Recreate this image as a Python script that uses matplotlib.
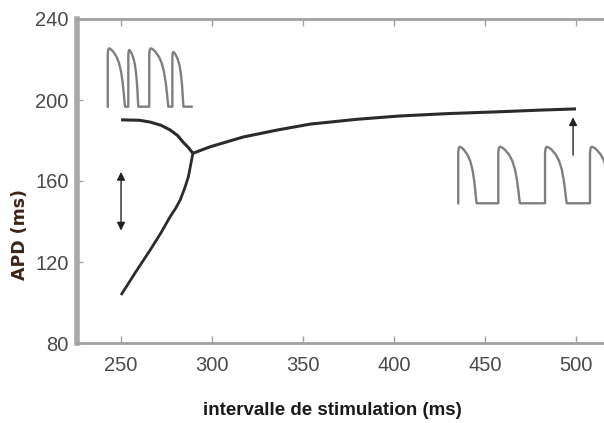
import matplotlib
matplotlib.use("Agg")
import matplotlib.pyplot as plt

# APD restitution branches
upper_x = [250, 260, 266, 272, 277, 281, 284, 287, 289.5]
upper_y = [190.2, 190.0, 189.1, 187.5, 185.2, 182.5, 179.3, 176.5, 173.7]
main_x = [289.5, 299, 317, 336, 354, 380, 403, 430, 458, 480, 500]
main_y = [173.7, 176.9, 181.7, 185.2, 188.1, 190.5, 192.1, 193.3, 194.2, 195.0, 195.6]
lower_x = [250, 258, 266, 272, 277, 280, 282.5, 285, 287, 289.5]
lower_y = [103.7, 115.0, 125.9, 134.5, 142.4, 146.5, 150.6, 156.5, 162.1, 173.7]

# action potential sketch: shape of one beat (fraction of duration, fraction of amplitude)
ap_t = [0, 0, 0.03, 0.08, 0.16, 0.3, 0.5, 0.65, 0.77, 0.86, 0.93, 0.97, 1.0]
ap_v = [0, 0.9, 0.98, 1.0, 0.99, 0.95, 0.86, 0.75, 0.6, 0.42, 0.22, 0.08, 0]

# alternans trace (top left)
alt_onsets = [242.7, 254.0, 265.5, 278.2]
alt_durations = [9.5, 5.5, 10.5, 6.1]
alt_amps = [28.8, 28.0, 28.8, 27.0]
alt_base = 196.7
alt_end = 288.8

# steady trace (bottom right)
std_onsets = [435.3, 457.3, 483.0, 507.7]
std_durations = [10.1, 11.9, 11.9, 11.9]
std_amps = [27.9, 27.9, 27.9, 27.9]
std_base = 149.0
std_end = 525.0

xticks = [250, 300, 350, 400, 450, 500]
yticks = [80, 120, 160, 200, 240]


def trace(onsets, durations, amps, base, end):
    xs, ys = [], []
    for o, d, a in zip(onsets, durations, amps):
        for t, v in zip(ap_t, ap_v):
            xs.append(o + t * d)
            ys.append(base + v * a)
    xs.append(end)
    ys.append(base)
    return xs, ys


plt.rcParams['font.family'] = ['Liberation Sans', 'DejaVu Sans']

fig = plt.figure(figsize=(6.04, 4.23), dpi=100)
ax = fig.add_axes([77 / 604, 80 / 423, 1 - 77 / 604, (343 - 19) / 423])

curve = '#2b2b2b'
ax.plot(upper_x, upper_y, color=curve, lw=2.2, solid_capstyle='butt')
ax.plot(main_x, main_y, color=curve, lw=2.2, solid_capstyle='butt')
ax.plot(lower_x, lower_y, color=curve, lw=2.0, solid_capstyle='butt')

wave = '#7f7f7f'
tx, ty = trace(alt_onsets, alt_durations, alt_amps, alt_base, alt_end)
ax.plot(tx, ty, color=wave, lw=1.7)
tx, ty = trace(std_onsets, std_durations, std_amps, std_base, std_end)
ax.plot(tx, ty, color=wave, lw=1.7)

ax.annotate('', xy=(250, 164.5), xytext=(250, 135.5),
            arrowprops=dict(arrowstyle='<|-|>', color='#222222', lw=1.0,
                            mutation_scale=12, shrinkA=0, shrinkB=0))
ax.annotate('', xy=(498.4, 191.5), xytext=(498.4, 172.8),
            arrowprops=dict(arrowstyle='-|>', color='#222222', lw=1.0,
                            mutation_scale=12, shrinkA=0, shrinkB=0))

ax.set_xlim(225.8, 515.4)
ax.set_ylim(80, 240)
ax.set_xticks(xticks)
ax.set_yticks(yticks)

ax.spines['right'].set_visible(False)
ax.spines['left'].set_color('#a8a8a8')
ax.spines['left'].set_linewidth(4.0)
for s in ['top', 'bottom']:
    ax.spines[s].set_color('#a0a0a0')
    ax.spines[s].set_linewidth(2.0)

ax.tick_params(axis='x', direction='in', length=5, width=1, color='#a0a0a0',
               top=True, labelsize=14.5, labelcolor='#4a4a4a', pad=9)
ax.tick_params(axis='y', direction='in', length=4, width=1, color='#a0a0a0',
               labelsize=14.5, labelcolor='#4a4a4a', pad=6)

ax.set_xlabel('intervalle de stimulation (ms)', fontsize=13.5, fontweight='bold',
              color='#1a1a1a')
ax.xaxis.set_label_coords((332 - 77) / 527, -(410 - 343) / 324)
ax.set_ylabel('APD (ms)', fontsize=12.5, fontweight='bold', family='DejaVu Sans',
              color='#3b2418')
ax.yaxis.set_label_coords((20 - 77) / 527, (343 - 234) / 324)
ax.yaxis.label.set_va('center')
ax.xaxis.label.set_va('center')

fig.savefig('out.png', dpi=100)
